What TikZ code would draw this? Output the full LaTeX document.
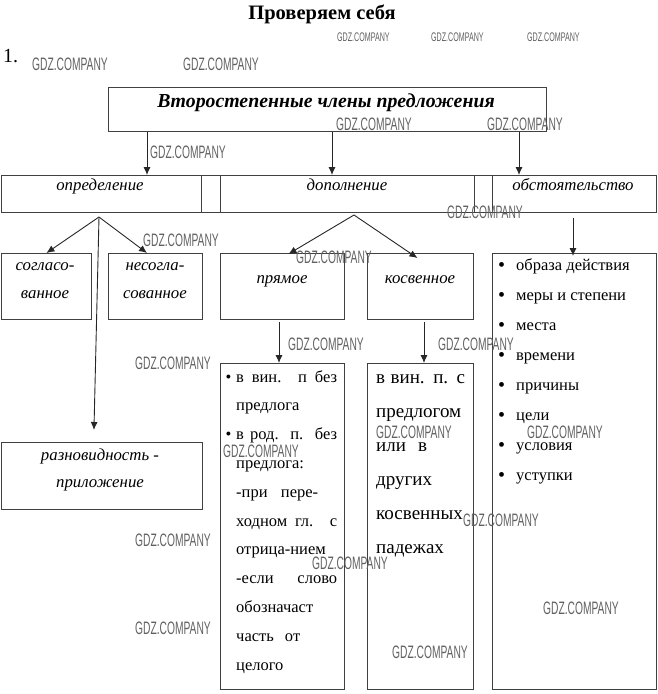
\documentclass[tikz,border=0pt]{standalone}
\usepackage{fontspec}
\setmainfont{Liberation Serif}
\newfontfamily\wmfont[FakeStretch=0.57]{Liberation Sans}
\usetikzlibrary{arrows.meta,calc}
\tikzset{
  box/.style={draw=black!75, line width=0.9pt, rectangle, inner sep=0pt, anchor=north west},
  arr/.style={draw=black!85, line width=0.9pt, -{Latex[length=8pt,width=7pt]}},
  wm/.style={font=\wmfont\fontsize{18}{18}\selectfont, text=black!62, inner sep=0pt, anchor=west},
  wms/.style={font=\wmfont\fontsize{12.5}{12.5}\selectfont, text=black!62, inner sep=0pt, anchor=west},
  itx/.style={font=\fontsize{16.8}{16.8}\selectfont\itshape, inner sep=0pt, anchor=base},
  lst/.style={font=\fontsize{16.5}{16.5}\selectfont, inner sep=0pt, anchor=base west},
  lstb/.style={font=\fontsize{19}{19}\selectfont, inner sep=0pt, anchor=base west},
  bul/.style={font=\fontsize{20}{20}\selectfont, inner sep=0pt, anchor=base west},
}
\begin{document}
\begin{tikzpicture}[x=1pt,y=-1pt]
\useasboundingbox (0,0) rectangle (657,694);
% title
\node[font=\fontsize{20.5}{20.5}\selectfont\bfseries, inner sep=0pt, anchor=base] (title) at (322,19) {Проверяем себя};
\node[font=\fontsize{20}{20}\selectfont, inner sep=0pt, anchor=base west] (num) at (3,62) {1.};
% boxes
\node[box, minimum width=438pt, minimum height=44pt] (main) at (108,87) {};
\node[font=\fontsize{19.8}{19.8}\selectfont\bfseries\itshape, inner sep=0pt, anchor=base] (maint) at (326,107) {Второстепенные члены предложения};
\node[box, minimum width=200pt, minimum height=37pt] (opr) at (1,175) {};
\node[box, minimum width=19pt, minimum height=37pt] (g1) at (201,175) {};
\node[box, minimum width=254pt, minimum height=37pt] (dop) at (220,175) {};
\node[box, minimum width=18pt, minimum height=37pt] (g2) at (474,175) {};
\node[box, minimum width=163.5pt, minimum height=37pt] (obs) at (492,175) {};
\node[itx] (oprt) at (100,190) {определение};
\node[itx] (dopt) at (347,190) {дополнение};
\node[itx] (obst) at (573,190) {обстоятельство};
\node[box, minimum width=90pt, minimum height=66pt] (sogl) at (1,253) {};
\node[box, minimum width=94pt, minimum height=66pt] (nesogl) at (108,253) {};
\node[box, minimum width=124pt, minimum height=66pt] (pryam) at (220,253) {};
\node[box, minimum width=106pt, minimum height=66pt] (kosv) at (367,253) {};
\node[box, minimum width=201pt, minimum height=67pt] (razn) at (1,442) {};
\node[box, minimum width=124pt, minimum height=326pt] (pl) at (220,363) {};
\node[box, minimum width=106pt, minimum height=326pt] (kl) at (367,363) {};
\node[box, minimum width=163.5pt, minimum height=436pt] (ol) at (492,253) {};
\node[itx] (sogl1) at (45,270) {согласо-};
\node[itx] (sogl2) at (45,298) {ванное};
\node[itx] (nes1) at (155,270) {несогла-};
\node[itx] (nes2) at (155,298) {сованное};
\node[itx] (pryamt) at (282,283) {прямое};
\node[itx] (kosvt) at (420,283) {косвенное};
\node[itx] (razn1) at (100,460) {разновидность -};
\node[itx] (razn2) at (100,487) {приложение};
% arrows
\coordinate (xa) at (147,0);
\coordinate (xb) at (332,0);
\coordinate (xc) at (519,0);
\draw[arr] (main.south -| xa) -- (opr.north -| xa);
\draw[arr] (main.south -| xb) -- (dop.north -| xb);
\draw[arr] (main.south -| xc) -- (obs.north -| xc);
\coordinate (oprj) at (99,217);
\draw[arr] (oprj) -- (sogl.north);
\draw[arr] (oprj) -- (nesogl.north -| xa);
\draw[arr] (oprj) -- ($(razn.north)+(-8,-12)$);
\coordinate (dopj) at (354,215);
\draw[arr] (dopj) -- ($(pryam.north)+(6,1)$);
\draw[arr] (dopj) -- ($(kosv.north)+(-3,5)$);
\coordinate (obsj) at (573,218);
\draw[arr] (obsj) -- ($(ol.north -| obsj)+(0,3)$);
\coordinate (pj) at (279,322);
\draw[arr] (pj) -- (pl.north -| pj);
\coordinate (kj) at (424,322);
\draw[arr] (kj) -- (kl.north -| kj);
% right list
\foreach \t [count=\i from 0] in {образа действия, меры и степени, места, времени, причины, цели, условия, уступки}{
  \node[bul] (ob\i) at (498,271+30*\i) {\textbullet};
  \node[lst] (ot\i) at (516,270+30*\i) {\t};
}
% pryamoe list
\node[lst] (pb1) at (225.5,382) {\textbullet};
\node[lst] (p1) at (236,382) {\makebox[101pt][s]{в вин. п без}};
\node[lst] (p2) at (236,410.8) {предлога};
\node[lst] (pb3) at (225.5,439.6) {\textbullet};
\node[lst] (p3) at (236,439.6) {\makebox[101pt][s]{в род. п. без}};
\node[lst] (p4) at (236,468.4) {предлога:};
\node[lst] (p5) at (236,497.2) {\makebox[82pt][s]{-при пере-}};
\node[lst] (p6) at (236,526) {\makebox[101pt][s]{ходном гл. с}};
\node[lst] (p7) at (236,554.8) {отрица-нием};
\node[lst] (p8) at (236,583.6) {\makebox[101pt][s]{-если слово}};
\node[lst] (p9) at (236,612.4) {обозначаст};
\node[lst] (p10) at (236,641.2) {\makebox[64pt][s]{часть от}};
\node[lst] (p11) at (236,670) {целого};
% kosvennoe list
\node[lstb] (k1) at (376,383) {\makebox[89pt][s]{в вин. п. с}};
\node[lstb] (k2) at (376,417) {предлогом};
\node[lstb] (k3) at (376,451) {\makebox[51pt][s]{или в}};
\node[lstb] (k4) at (376,485) {других};
\node[lstb] (k5) at (376,519) {косвенных};
\node[lstb] (k6) at (376,553) {падежах};
% watermarks
\node[wms] (w1) at (337,37) {GDZ.COMPANY};
\node[wms] (w2) at (431,37) {GDZ.COMPANY};
\node[wms] (w3) at (527,37) {GDZ.COMPANY};
\foreach \x/\y [count=\i] in {32/64, 183/64, 336/124, 487/124, 150/152, 143/240, 296/257, 447/212, 288/344, 135/363, 438/344, 376/432, 527/432, 223/451, 463/520, 135/540, 312/563, 543/608, 135/628, 392/652}{
  \node[wm] (wm\i) at (\x,\y) {GDZ.COMPANY};
}
\end{tikzpicture}
\end{document}
